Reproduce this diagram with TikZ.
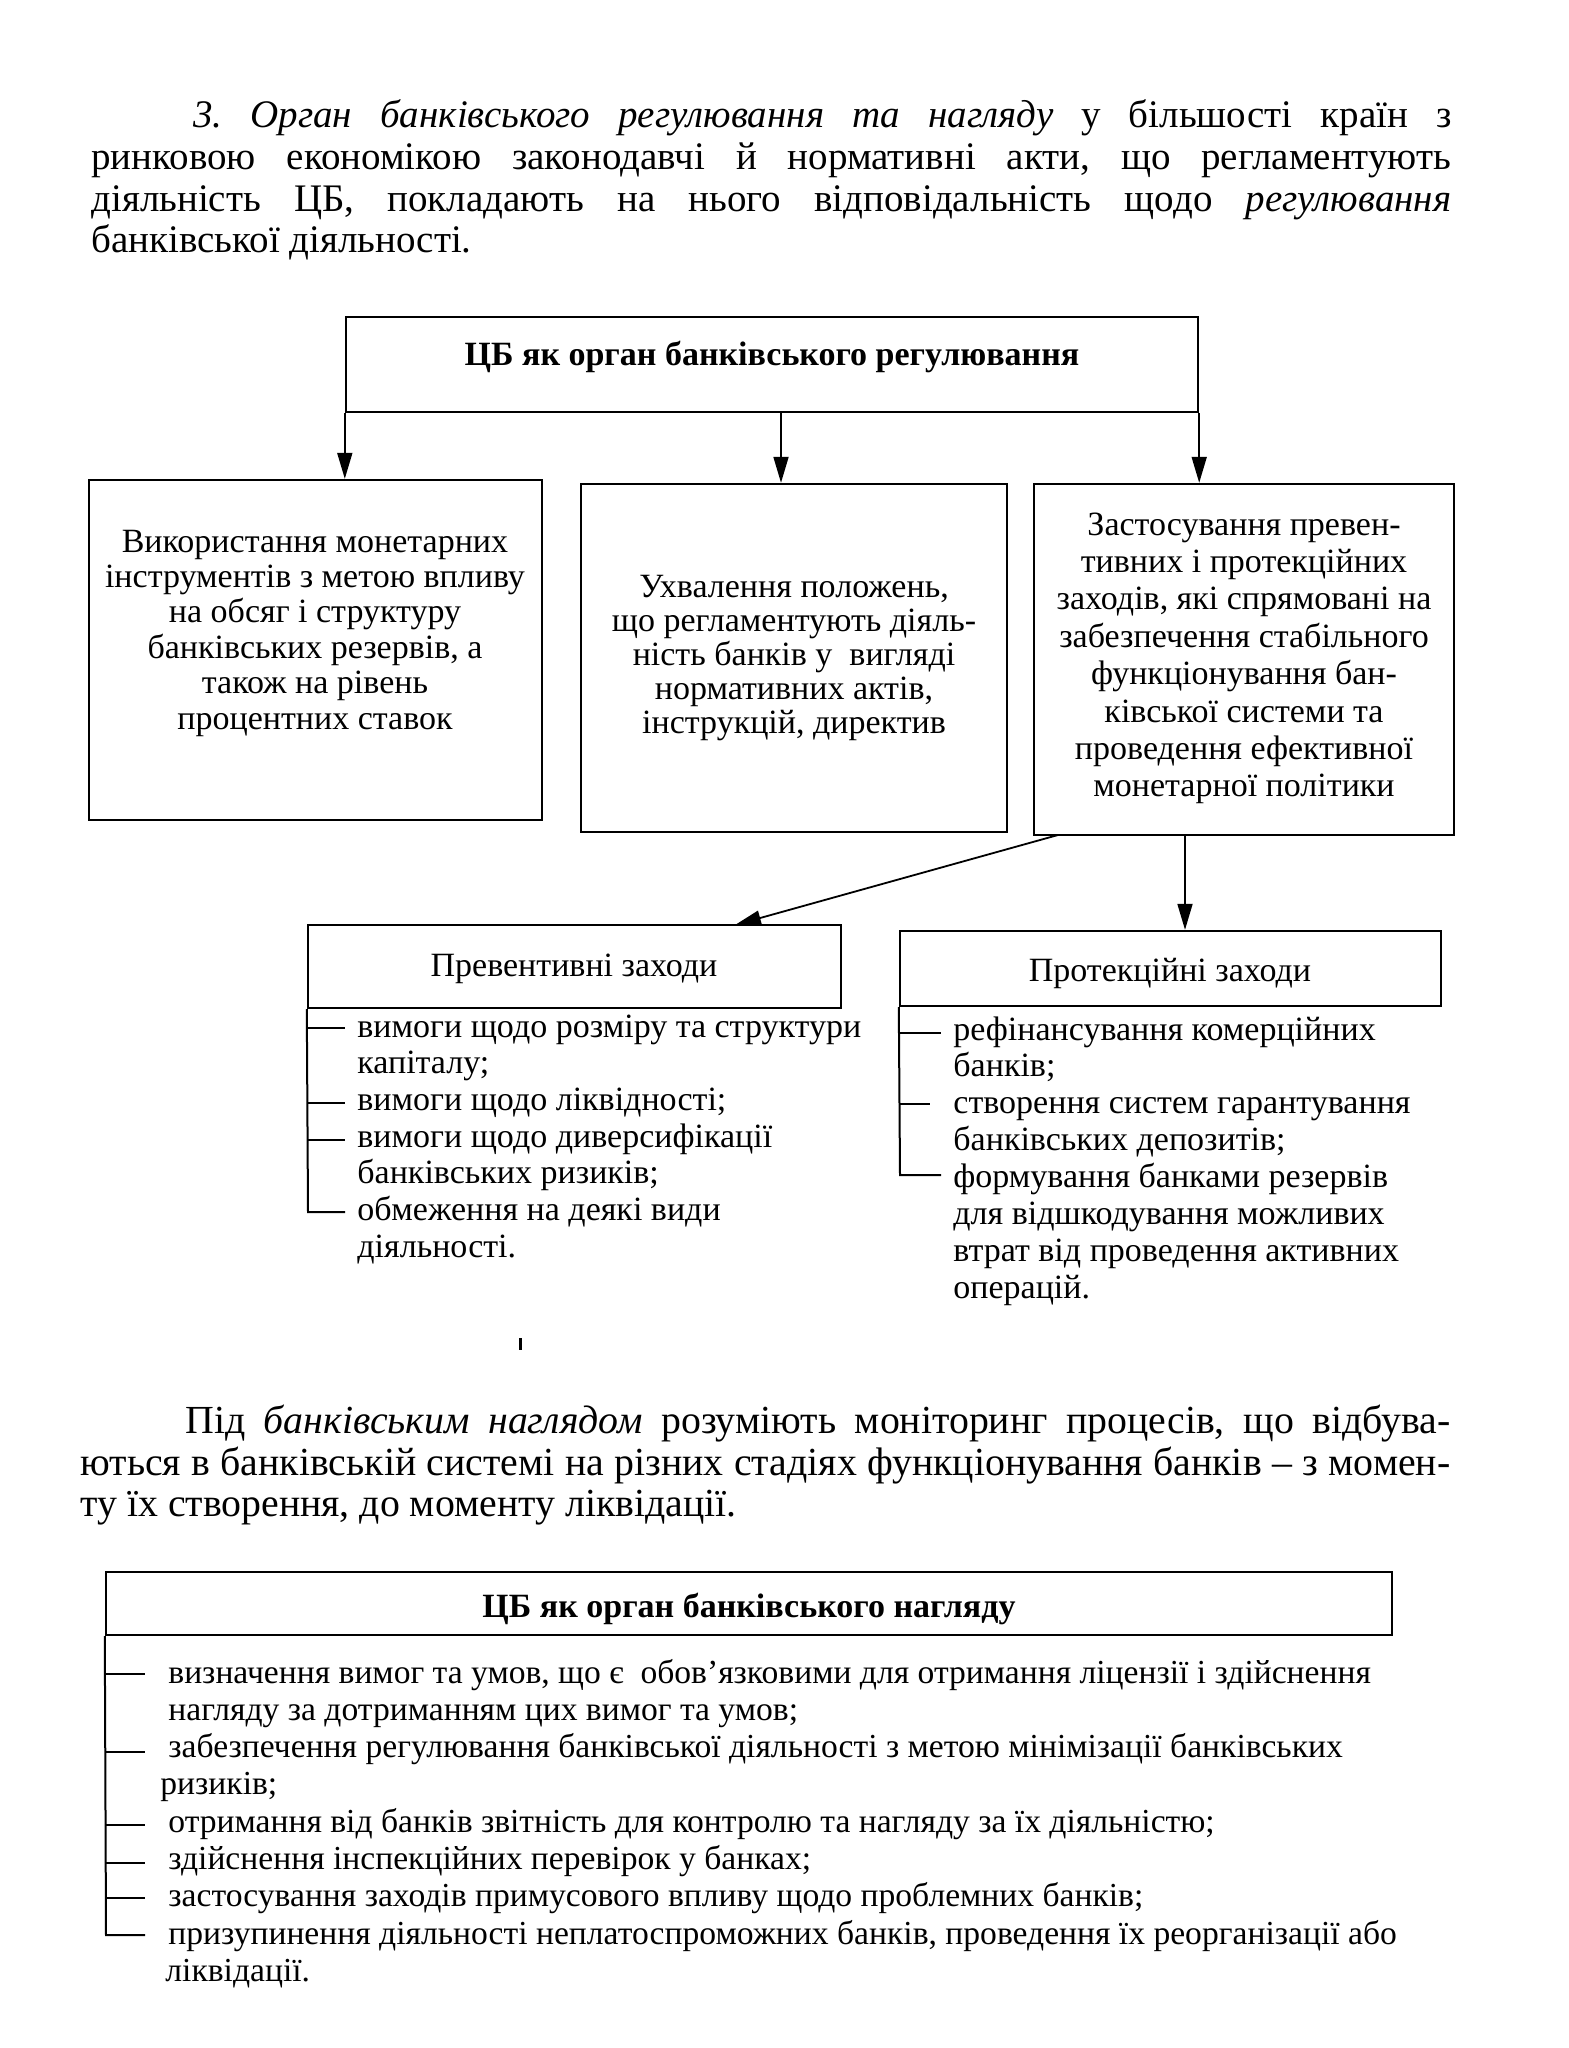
\documentclass[tikz,border=0pt]{standalone}
\usepackage{fontspec}
\setmainfont{Liberation Serif}
\usetikzlibrary{arrows.meta,fit}
\frenchspacing
\begin{document}
\begin{tikzpicture}[x=0.5pt,y=-0.5pt,
  frame/.style={draw, line width=1.2pt, inner sep=0pt},
  ptxt/.style={inner sep=0pt, anchor=base west, font=\fontsize{19.5}{22}\selectfont},
  qtxt/.style={inner sep=0pt, anchor=base west, font=\fontsize{19.9}{22}\selectfont},
  btxt/.style={inner sep=0pt, anchor=base, font=\fontsize{17}{20}\selectfont},
  ltxt/.style={inner sep=0pt, anchor=base west, font=\fontsize{17}{20}\selectfont},
  ftxt/.style={inner sep=0pt, anchor=base west, font=\fontsize{16.8}{19}\selectfont},
  head/.style={inner sep=0pt, anchor=base, font=\fontsize{17}{20}\selectfont\bfseries},
  arr/.style={line width=0.9pt, -{Triangle[length=13pt,width=7.5pt]}},
  brk/.style={line width=1pt}
]
\fill[white] (0,0) rectangle (1568,2048);
\useasboundingbox (0,0) rectangle (1568,2048);

% paragraph 1
\node[ptxt] (p1a) at (193,128) {\makebox[629pt][s]{\textit{3. Орган банківського регулювання та нагляду} у більшості країн з}};
\node[ptxt] (p1b) at (91,170) {\makebox[680pt][s]{ринковою економікою законодавчі й нормативні акти, що регламентують}};
\node[ptxt] (p1c) at (91,212) {\makebox[680pt][s]{діяльність ЦБ, покладають на нього відповідальність щодо \textit{регулювання}}};
\node[ptxt] (p1d) at (91,253) {банківської діяльності.};

% top box
\node[frame, fit={(346,317)(1198,412)}] (top) {};
\node[head] (topT) at (772,366) {ЦБ як орган банківського регулювання};

% second row
\node[frame, fit={(89,480)(542,820)}] (boxA) {};
\node[frame, fit={(581,484)(1007,832)}] (boxB) {};
\node[frame, fit={(1034,484)(1454,835)}] (boxC) {};

\draw[arr] (top.south west) -- (top.south west |- boxA.north);
\coordinate (tm) at (781,412);
\draw[arr] (tm) -- (tm |- boxB.north);
\draw[arr] (top.south east) -- (top.south east |- boxC.north);

\foreach \t [count=\i from 0] in {Використання монетарних, інструментів з метою впливу, на обсяг і структуру, {банківських резервів, а}, також на рівень, процентних ставок}
  \node[btxt] (a\i) at (315,552+35.4*\i) {\t};
\foreach \t [count=\i from 0] in {{Ухвалення положень,}, що регламентують діяль-, ність банків у~ вигляді, {нормативних актів,}, {інструкцій, директив}}
  \node[btxt] (b\i) at (794,597+34.2*\i) {\t};
\foreach \t [count=\i from 0] in {Застосування превен-, тивних і протекційних, {заходів, які спрямовані на}, забезпечення стабільного, функціонування бан-, ківської системи та, проведення ефективної, монетарної політики}
  \node[btxt] (c\i) at (1244,535+37.4*\i) {\t};

% third row
\node[frame, fit={(308,925)(841,1008)}] (boxD) {};
\node[frame, fit={(900,931)(1441,1006)}] (boxE) {};
\node[btxt] (dT) at (574,976) {Превентивні заходи};
\node[btxt] (eT) at (1170,981) {Протекційні заходи};

\coordinate (dgs) at (1058,835);
\coordinate (dge) at (735,925);
\draw[arr] (dgs) -- (dge);
\coordinate (vs) at (1185,835);
\draw[arr] (vs) -- (vs |- boxE.north);

\draw[brk] (boxD.south west) -- (308,1212) -- (345,1212);
\foreach \ty in {1028,1103,1140} \draw[brk] (308,\ty) -- (345,\ty);
\foreach \t [count=\i from 0] in {вимоги щодо розміру та структури, капіталу;, вимоги щодо ліквідності;, вимоги щодо диверсифікації, банківських ризиків;, обмеження на деякі види, діяльності.}
  \node[ltxt] (d\i) at (357,1037+36.7*\i) {\t};

\draw[brk] (boxE.south west) -- (900,1175) -- (941,1175);
\draw[brk] (900,1033) -- (941,1033);
\draw[brk] (900,1104) -- (930,1104);
\foreach \t [count=\i from 0] in {рефінансування комерційних, банків;, створення систем гарантування, банківських депозитів;, формування банками резервів, для відшкодування можливих, втрат від проведення активних, операцій.}
  \node[ltxt] (e\i) at (953,1040+36.9*\i) {\t};

\fill (519,1338) rectangle (522,1350);

% paragraph 2
\node[qtxt] (p2a) at (185,1433) {\makebox[632.5pt][s]{Під \textit{банківським наглядом} розуміють моніторинг процесів, що відбува-}};
\node[qtxt] (p2b) at (80,1475) {\makebox[685pt][s]{ються в банківській системі на різних стадіях функціонування банків – з момен-}};
\node[qtxt] (p2c) at (80,1516) {ту їх створення, до моменту ліквідації.};

% bottom box
\node[frame, fit={(106,1572)(1392,1635)}] (boxF) {};
\node[head] (fT) at (749,1617) {ЦБ як орган банківського нагляду};
\draw[brk] (boxF.south west) -- (106,1935) -- (145,1935);
\foreach \ty in {1674,1752,1825,1863,1898} \draw[brk] (106,\ty) -- (145,\ty);
\foreach \xx/\t [count=\i from 0] in {168/{визначення вимог та умов, що є~ обов'язковими для отримання ліцензії і здійснення}, 168/{нагляду за дотриманням цих вимог та умов;}, 168/{забезпечення регулювання банківської діяльності з метою мінімізації банківських}, 160/{ризиків;}, 168/{отримання від банків звітність для контролю та нагляду за їх діяльністю;}, 168/{здійснення інспекційних перевірок у банках;}, 168/{застосування заходів примусового впливу щодо проблемних банків;}, 168/{призупинення діяльності неплатоспроможних банків, проведення їх реорганізації або}, 165/{ліквідації.}}
  \node[ftxt] (f\i) at (\xx,1683+37.3*\i) {\t};
\end{tikzpicture}
\end{document}
